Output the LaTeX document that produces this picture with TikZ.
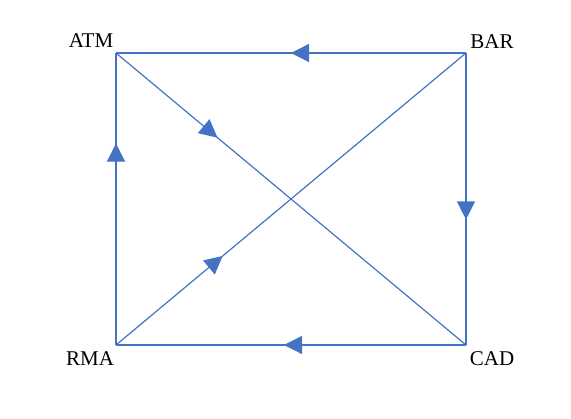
\documentclass[tikz,border=0pt]{standalone}
\usepackage{fontspec}
\setmainfont{Liberation Serif}
\usetikzlibrary{arrows.meta,decorations.markings}
\definecolor{edgeblue}{HTML}{4472C4}
\begin{document}
\begin{tikzpicture}[x=1pt,y=-1pt,
  edge/.style={draw=edgeblue,line width=1.2pt},
  midarrow/.style={postaction={decorate,decoration={markings,
     mark=at position #1 with {\arrow{Triangle[length=18pt,width=18pt,fill=edgeblue]}}}}},
  lbl/.style={font=\fontsize{21}{25}\selectfont,inner sep=0pt}]
\useasboundingbox (0,0) rectangle (571,419);
\coordinate (atm) at (116,53);
\coordinate (bar) at (466,53);
\coordinate (rma) at (116,345);
\coordinate (cad) at (466,345);
\node[lbl] (tatm) at (91,41) {ATM};
\node[lbl] (tbar) at (492,42) {BAR};
\node[lbl] (trma) at (90,359) {RMA};
\node[lbl] (tcad) at (492,359) {CAD};
\draw[edge,midarrow=0.5] (bar) -- (atm);
\draw[edge,midarrow=0.57] (bar) -- (cad);
\draw[edge,midarrow=0.52] (cad) -- (rma);
\draw[edge,midarrow=0.69] (rma) -- (atm);
\draw[edge,midarrow=0.29] (atm) -- (cad);
\draw[edge,midarrow=0.305] (rma) -- (bar);
\end{tikzpicture}
\end{document}
